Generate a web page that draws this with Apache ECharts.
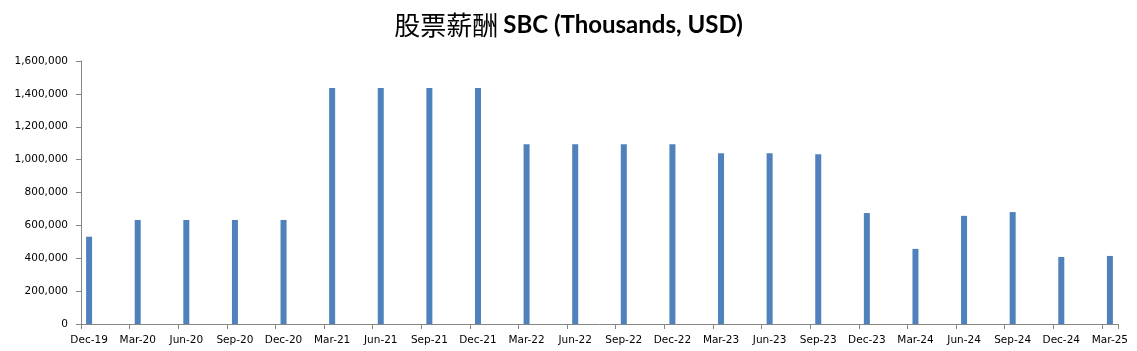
<!DOCTYPE html>
<html>
<head>
<meta charset="utf-8">
<script src="https://cdn.jsdelivr.net/npm/echarts@6/dist/echarts.min.js"></script>
<style>html,body{margin:0;padding:0;background:#fff;}#c{width:1137px;height:351px;}</style>
</head>
<body>
<div id="c"></div>
<script>
// Quarter labels (x-axis tick labels) and SBC values (thousands USD)
const quarters = ['Dec-19','Mar-20','Jun-20','Sep-20','Dec-20','Mar-21','Jun-21','Sep-21','Dec-21',
  'Mar-22','Jun-22','Sep-22','Dec-22','Mar-23','Jun-23','Sep-23','Dec-23','Mar-24','Jun-24','Sep-24','Dec-24','Mar-25'];
const sbc = [531000, 633000, 633000, 633000, 633000, 1435000, 1435000, 1435000, 1435000,
  1094000, 1094000, 1094000, 1094000, 1039000, 1039000, 1033000, 675000, 457000, 658000, 681000, 408000, 414000];
const yTicks = { min: 0, max: 1600000, interval: 200000 };

// Monthly date-axis: each quarter followed by two empty months
const months = [];
const monthValues = [];
quarters.forEach((q, i) => {
  months.push(q); monthValues.push(sbc[i]);
  if (i < quarters.length - 1) {
    months.push(q + ' +1'); monthValues.push(null);
    months.push(q + ' +2'); monthValues.push(null);
  }
});

const chart = echarts.init(document.getElementById('c'), null, { renderer: 'canvas' });
const axisFont = 'DejaVu Sans';
chart.setOption({
  animation: false,
  backgroundColor: '#fff',
  title: {
    left: 'center',
    top: 7,
    text: '{a|股票薪酬} {b|SBC (Thousands, USD)}',
    textStyle: {
      rich: {
        a: { fontFamily: 'Noto Sans CJK SC', fontSize: 26, fontWeight: 'normal', color: '#000' },
        b: { fontFamily: 'Lato', fontSize: 24, fontWeight: 'bold', color: '#000' }
      }
    }
  },
  grid: { left: 81, right: 19, top: 61, bottom: 27, containLabel: false },
  xAxis: {
    type: 'category',
    data: months,
    boundaryGap: true,
    axisLine: { lineStyle: { color: '#868686', width: 1 } },
    axisTick: { show: true, interval: 2, alignWithLabel: false, length: 5, lineStyle: { color: '#868686' } },
    axisLabel: { interval: 2, margin: 11, fontSize: 10.5, fontFamily: axisFont, color: '#000' },
    splitLine: { show: false }
  },
  yAxis: {
    type: 'value',
    min: yTicks.min, max: yTicks.max, interval: yTicks.interval,
    axisLine: { show: true, lineStyle: { color: '#868686', width: 1 } },
    axisTick: { show: true, length: 5, lineStyle: { color: '#868686' } },
    axisLabel: {
      margin: 13, fontSize: 10.5, fontFamily: axisFont, color: '#000',
      formatter: v => v.toLocaleString('en-US')
    },
    splitLine: { show: false }
  },
  series: [{
    type: 'bar',
    data: monthValues,
    barWidth: 6,
    itemStyle: { color: '#4F81BD' }
  }]
});
</script>
</body>
</html>
